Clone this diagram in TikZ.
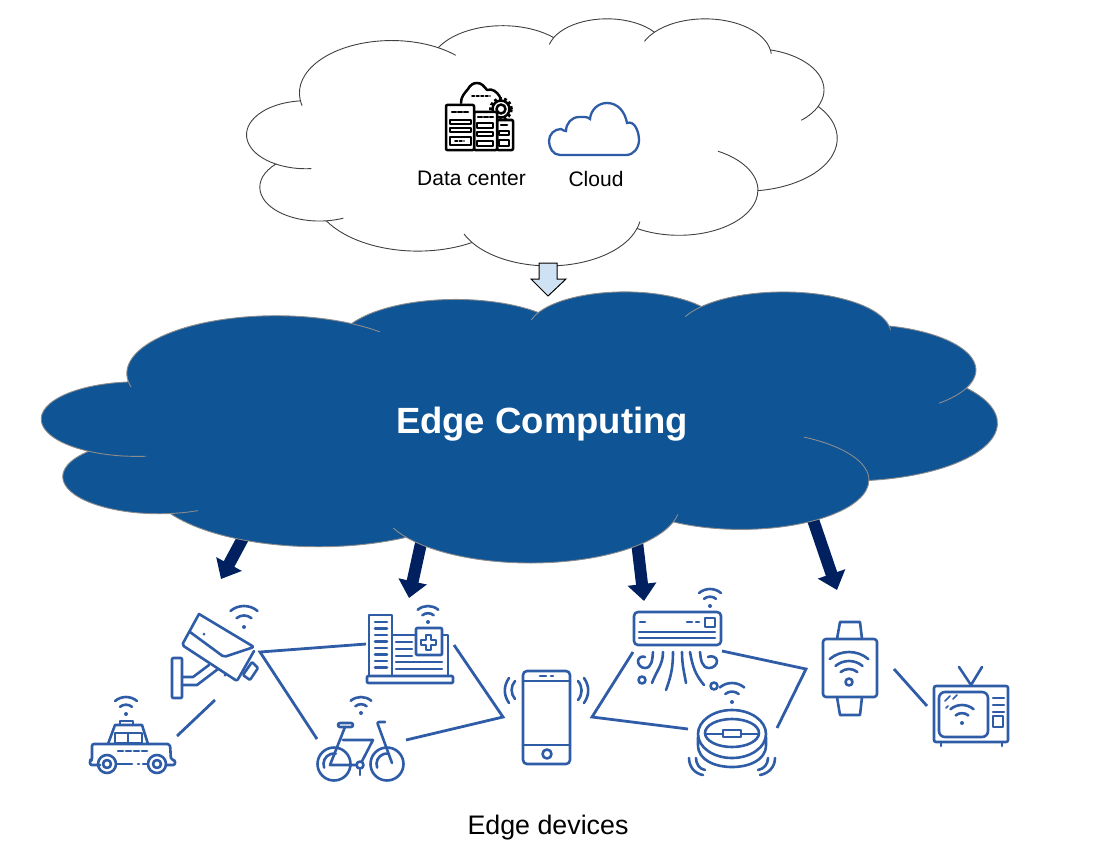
\documentclass[tikz,border=0pt]{standalone}
\usepackage{fontspec}
\setmainfont{Liberation Sans}
\usetikzlibrary{arrows.meta}
\definecolor{edgeblue}{HTML}{0F5495}
\definecolor{iconblue}{HTML}{2F5CA6}
\definecolor{pushblue}{HTML}{002060}
\definecolor{pale}{HTML}{CFE2F3}
\tikzset{
  cloudline/.style={draw=black!75,fill=white,line width=0.9pt},
  edgecloud/.style={draw=black!45,fill=edgeblue,line width=0.9pt},
  icon/.style={draw=iconblue,line width=2.6pt,line cap=round,line join=round},
  link/.style={draw=iconblue,line width=2.8pt},
  push/.style={draw=pushblue,line width=12pt,-{Triangle[width=28pt,length=17pt]}},
  rack/.style={draw=black,line width=2.5pt,line cap=round,line join=round},
}
% one lobe: radii, start angle, sweep
\newcommand{\lobe}[4]{arc[x radius=#1pt,y radius=#2pt,
  start angle={atan2(#1*sin(#3),#2*cos(#3))},
  delta angle={Mod(atan2(#1*sin(#3+#4),#2*cos(#3+#4))-atan2(#1*sin(#3),#2*cos(#3))+180,360)-180}]}
% cloud in a 432 x 432 box
\newcommand{\puffycloud}[1]{
  \filldraw[#1] (39,143.7) coordinate (c1)
    \lobe{67.53}{91.90}{-190.4875}{123.7805} coordinate (c2)
    \lobe{53.33}{72.67}{-144.1024}{89.9452} coordinate (c3)
    \lobe{43.65}{59.45}{-145.8079}{99.7230} coordinate (c4)
    \lobe{48.57}{65.95}{-130.9861}{117.2417} coordinate (c5)
    \lobe{53.33}{72.73}{-78.7089}{109.0269} coordinate (c6)
    \lobe{67.75}{92.20}{-46.2673}{130.2690} coordinate (c7)
    \lobe{57.85}{78.67}{0.6250}{114.0333} coordinate (c8)
    \lobe{67.52}{92.15}{22.4516}{115.1726} coordinate (c9)
    \lobe{77.20}{105.43}{66.2426}{75.7110} coordinate (c10)
    \lobe{43.60}{59.18}{-274.9421}{146.7356} coordinate (c11)
    \lobe{43.45}{59.45}{-246.8285}{152.5189} -- cycle;
  \draw[#1,fill=none]
    (c1) \lobe{67.53}{91.90}{-190.4875}{-8}
    (c2) \lobe{67.53}{91.90}{-66.707}{12}
    (c3) \lobe{43.65}{59.45}{-145.8079}{-15}
    (c4) \lobe{48.57}{65.95}{-130.9861}{-18}
    (c5) \lobe{48.57}{65.95}{-13.7444}{8}
    (c6) \lobe{53.33}{72.73}{30.318}{25}
    (c7) \lobe{57.85}{78.67}{0.625}{-68}
    (c8) \lobe{67.52}{92.15}{22.4516}{-10}
    (c9) \lobe{67.52}{92.15}{137.6242}{12}
    (c10) \lobe{43.60}{59.18}{-274.9421}{-13}
    (c11) \lobe{43.45}{59.45}{-246.8285}{-27};
}
% wifi sign: dot at x,y and outer radius
\newcommand{\wifi}[3]{
  \fill[iconblue] (#1,#2) circle (2pt);
  \draw[icon] ([shift={(50:#3*0.55pt)}]#1,#2) arc[start angle=50,end angle=130,radius=#3*0.55pt];
  \draw[icon] ([shift={(50:#3pt)}]#1,#2) arc[start angle=50,end angle=130,radius=#3pt];
}
\begin{document}
\begin{tikzpicture}[x=1pt,y=-1pt]
\useasboundingbox (0,0) rectangle (1107,848);

% arrows to the devices, their tails hidden by the cloud
\coordinate (p1s) at (250,525); \coordinate (p1e) at (221,579);
\coordinate (p2s) at (425,525); \coordinate (p2e) at (409,598);
\coordinate (p3s) at (635,525); \coordinate (p3e) at (644,601);
\coordinate (p4s) at (808,505); \coordinate (p4e) at (837,590);
\draw[push] (p1s) -- (p1e);
\draw[push] (p2s) -- (p2e);
\draw[push] (p3s) -- (p3e);
\draw[push] (p4s) -- (p4e);

% the two clouds
\begin{scope}[shift={(247,18)},x=1pt,y=1pt,xscale=590/432,yscale=-247/432]
  \puffycloud{cloudline}
\end{scope}
\begin{scope}[shift={(42,291)},x=1pt,y=1pt,xscale=955/432,yscale=-271/432]
  \puffycloud{edgecloud}
\end{scope}
\filldraw[fill=pale,draw=black,line width=1pt,line join=miter]
  (539,263) -- (557,263) -- (557,279) -- (566,279) -- (548,296) -- (531,279) -- (539,279) -- cycle;

\node[text=white,font=\fontsize{36.5}{40}\selectfont\bfseries] (edge) at (542,424) {Edge Computing};
\node[font=\fontsize{21}{24}\selectfont] (dc) at (471.5,178.5) {Data center};
\node[font=\fontsize{21}{24}\selectfont] (cl) at (596,178.5) {Cloud};
\node[font=\fontsize{26.8}{30}\selectfont] (dev) at (548,828) {Edge devices};

% data center icon
\draw[rack] (461,103) to[out=90,in=230] (468,89) to[out=60,in=180] (477,83) to[out=0,in=130] (487,90)
  to[out=20,in=120] (500,97);
\draw[rack,dotted,line width=1.8pt] (472,96) -- (490,96);
\draw[black,line width=2.8pt,dash pattern=on 2.8pt off 2.4pt] (501,109) circle (10.5pt);
\draw[rack,fill=white] (501,109) circle (8.5pt);
\draw[rack] (501,109) circle (4.5pt);
\draw[rack,fill=white,rounded corners=1pt] (497,120) rectangle (513,150);
\draw[rack,fill=white,rounded corners=1pt] (474,112) rectangle (497,150);
\draw[rack,fill=white,rounded corners=1pt] (446,105) rectangle (474,150);
\draw[rack,dashed,dash pattern=on 4pt off 2pt] (452,112) -- (469,112);
\draw[rack,line width=2pt] (450,120) rectangle (471,124);
\draw[rack,line width=2pt] (450,128) rectangle (471,132);
\draw[rack,line width=2pt] (450,137) rectangle (471,145);
\draw[rack,dotted,line width=1.8pt] (455,141) -- (464,141);
\draw[rack,dashed,dash pattern=on 4pt off 2pt] (478,117) -- (493,117);
\foreach \ya/\yb in {123/128,132/136,141/146}
  \draw[rack,line width=2pt] (477,\ya) rectangle (493,\yb);
\draw[rack] (501,125) -- (507,125);
\foreach \ya/\yb in {131/135,140/146}
  \draw[rack,line width=2pt] (499,\ya) rectangle (509,\yb);

% cloud icon
\draw[draw=iconblue,line width=2.3pt] (560,155) to[out=180,in=270] (549,141) to[out=90,in=180] (561,129)
  to[out=0,in=220] (566,131) to[out=90,in=180] (579,117) to[out=0,in=140] (590,119)
  to[out=85,in=180] (607,103) to[out=0,in=100] (627,123) to[out=20,in=90] (639,140)
  to[out=270,in=0] (626,155) -- cycle;

% camera
\draw[icon,rounded corners=2pt] (199,614) -- (254,647) -- (224,657) -- (190,632);
\draw[icon,rounded corners=2pt] (199,614) -- (182,645) -- (237,681) -- (254,651);
\draw[icon,rounded corners=1pt] (252,662) -- (258,668) -- (250,680) -- (243,675) -- cycle;
\draw[icon,rounded corners=1pt] (172,658) rectangle (182,698);
\draw[icon] (182,677) -- (193,677) -- (209,665);
\draw[icon] (182,685) -- (197,685) -- (218,669);
\fill[iconblue] (204,634) circle (1.5pt) (225,675) circle (1.5pt);
\wifi{244}{627}{21}

% taxi
\draw[icon,rounded corners=2pt] (100,765) -- (90,765) -- (90,760) -- (92,760) -- (92,744) -- (170,744) -- (171,760) -- (175,760) -- (175,765) -- (166,765);
\draw[icon] (108,744) -- (115,725) -- (142,725) -- (148,744);
\draw[icon] (115,733) rectangle (142,743) (128,733) -- (128,743);
\draw[icon] (120,725) -- (120,721) -- (133,721) -- (133,725);
\draw[icon,dash pattern=on 5pt off 3pt] (118,751) -- (148,751);
\draw[icon] (117,764) -- (132,764) (138,764) -- (139,764) (143,764) -- (147,764);
\foreach \x in {107,157}{
  \draw[icon] (\x,764) circle (9pt);
  \draw[icon] (\x,764) circle (4pt);
}
\wifi{126}{714}{17}

% bicycle
\foreach \x in {334,387}{
  \draw[icon] (\x,764) circle (16.5pt);
  \draw[icon] ([shift={(200:10.5pt)}]\x,764) arc[start angle=200,end angle=80,radius=10.5pt];
}
\draw[icon,rounded corners=2pt] (338,723) rectangle (353,727);
\draw[icon] (345,727) -- (330,765) -- (360,765) -- (373,740) -- (343,740);
\draw[icon,rounded corners=2pt] (385,722) -- (377,722) -- (392,763);
\draw[icon] (360,770) -- (360,775);
\draw[icon,fill=white] (360,765) circle (3.5pt);
\wifi{361}{713}{16}

% hospital
\draw[icon] (369,675) -- (369,615) -- (392,615) -- (392,675);
\foreach \y in {622,628.5,...,670}
  \draw[icon] (375,\y) -- (387,\y);
\draw[icon,rounded corners=1pt] (367,676) rectangle (453,683);
\draw[icon] (392,635) -- (416,635) (442,635) -- (448,635) -- (448,676);
\foreach \y in {642,649,656}
  \draw[icon] (396,\y) -- (412,\y);
\foreach \y in {662,669}
  \draw[icon] (396,\y) -- (442,\y);
\draw[icon,rounded corners=1pt] (416,628) rectangle (442,655);
\draw[icon,line width=1.8pt] (426,635) -- (431,635) -- (431,640) -- (436,640) -- (436,645) -- (431,645) -- (431,650) -- (426,650) -- (426,645) -- (421,645) -- (421,640) -- (426,640) -- cycle;
\wifi{428}{622}{16}

% phone
\draw[icon,rounded corners=4pt] (523,671) rectangle (570,764);
\draw[icon] (523,681) -- (570,681) (523,745) -- (570,745);
\draw[icon] (547,754) circle (4.5pt);
\draw[icon] (540,676) -- (546,676) (551,676) -- (553,676);
\draw[icon] (515,681) to[out=230,in=130] (515,699);
\draw[icon] (509,678) to[out=235,in=125] (509,703);
\draw[icon] (578,681) to[out=-50,in=50] (578,700);
\draw[icon] (584,678) to[out=-55,in=55] (584,703);

% air conditioner
\draw[icon,rounded corners=4pt] (634,612) rectangle (721,645);
\draw[icon] (639,632) -- (715,632) (639,638) -- (715,638);
\draw[icon] (640,622) -- (645,622) (687,622) -- (692,622) (696,622) -- (699,622);
\draw[icon] (705,618) rectangle (715,627);
\draw[icon] (663,652) to[out=270,in=70] (652,683);
\draw[icon] (673,652) to[out=270,in=70] (666,690);
\draw[icon] (682,652) to[out=270,in=100] (686,683);
\draw[icon] (690,652) to[out=280,in=130] (704,685);
\draw[icon] (700,652) to[out=275,in=180] (709,668) to[out=0,in=270] (717,661) to[out=90,in=30] (708,657);
\draw[icon] (653,652) to[out=265,in=0] (645,668) to[out=180,in=270] (638,661) to[out=90,in=150] (645,657);
\draw[icon] (642,680) circle (3.5pt) (714,686) circle (3.5pt);
\wifi{710}{606}{17}

% robot cleaner
\draw[icon] (732,734) ellipse (34pt and 24pt);
\draw[icon] (732,733) ellipse (27pt and 14pt);
\draw[icon] (705,734) -- (723,734) (741,734) -- (759,734);
\draw[icon] (723,730) rectangle (741,737);
\draw[icon] (698,737) -- (698,745) to[out=270,in=180] (732,767) to[out=0,in=270] (766,745) -- (766,737);
\draw[icon] (689,758) to[out=270,in=170] (703,775);
\draw[icon] (696,758) to[out=270,in=170] (705,770);
\draw[icon] (775,758) to[out=270,in=10] (760,775);
\draw[icon] (768,758) to[out=270,in=10] (758,770);
\wifi{732}{702}{19}

% watch
\draw[icon,rounded corners=3pt] (823,639) rectangle (877,697);
\draw[icon] (837,639) -- (840,622) -- (860,622) -- (862,639);
\draw[icon] (837,697) -- (840,715) -- (860,715) -- (862,697);
\draw[icon] (849,682) circle (3.5pt);
\foreach \r in {13,21,30}
  \draw[icon] ([shift={(50:\r pt)}]849,682) arc[start angle=50,end angle=130,radius=\r pt];

% television
\draw[icon,rounded corners=2pt] (934,686) rectangle (1008,742);
\draw[icon,rounded corners=6pt] (939,692) rectangle (988,737);
\draw[icon] (959,667) -- (971,685) -- (982,667);
\foreach \y in {698,705,712}
  \draw[icon] (993,\y) -- (1004,\y);
\draw[icon] (993,716) rectangle (1003,727);
\draw[icon] (941,742) -- (941,746) (1002,742) -- (1002,746);
\draw[icon,line width=1.6pt] (945,701) -- (950,696) (953,699) -- (957,695) (946,708) -- (948,706);
\wifi{962}{723}{18}

% links between the devices
\coordinate (hospL) at (366,644); \coordinate (camR) at (260,652); \coordinate (bikeL) at (317,739);
\coordinate (camB) at (215,700); \coordinate (taxiR) at (177,736);
\coordinate (hospR) at (454,645); \coordinate (phoneL) at (503,717); \coordinate (bikeR) at (406,740);
\coordinate (acL) at (633,652); \coordinate (phoneR) at (592,717); \coordinate (robotL) at (688,729);
\coordinate (acR) at (722,651); \coordinate (watchL) at (806,669); \coordinate (robotR) at (777,728);
\coordinate (watchR) at (894,669); \coordinate (tvL) at (927,706);
\draw[link] (hospL) -- (camR) -- (bikeL);
\draw[link] (camB) -- (taxiR);
\draw[link] (hospR) -- (phoneL) -- (bikeR);
\draw[link] (acL) -- (phoneR) -- (robotL);
\draw[link] (acR) -- (watchL) -- (robotR);
\draw[link] (watchR) -- (tvL);

\end{tikzpicture}
\end{document}
